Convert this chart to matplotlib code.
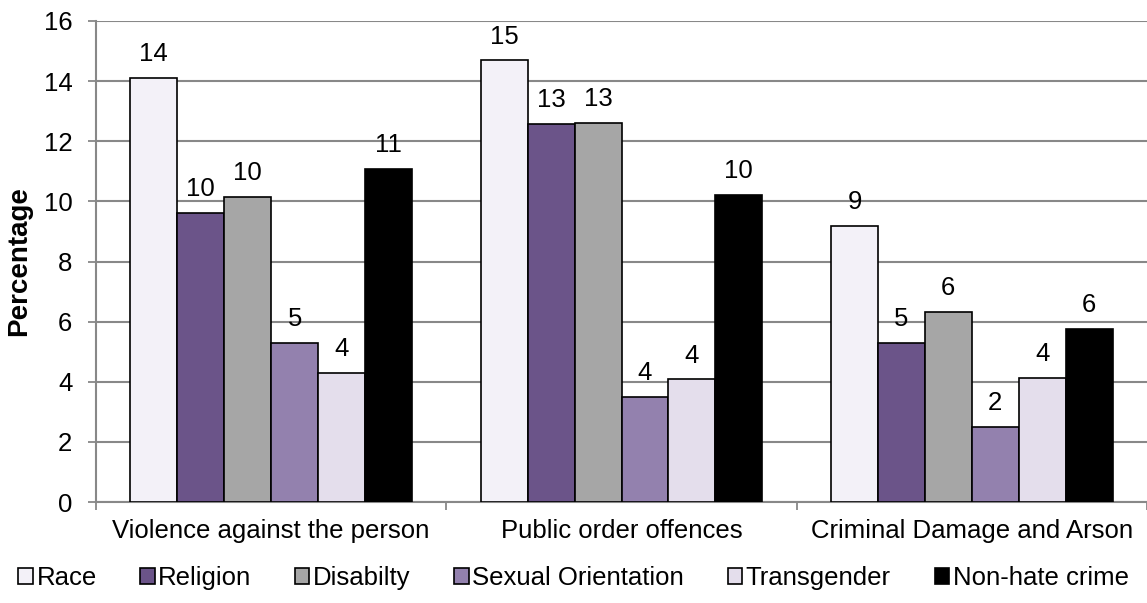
import numpy as np
import matplotlib
matplotlib.use('Agg')
import matplotlib.pyplot as plt

plt.rcParams['font.family'] = ['Liberation Sans', 'DejaVu Sans']

categories = ['Violence against the person', 'Public order offences', 'Criminal Damage and Arson']
series = ['Race', 'Religion', 'Disabilty', 'Sexual Orientation', 'Transgender', 'Non-hate crime']
race = [14.1, 14.69, 9.18]
religion = [9.61, 12.58, 5.29]
disability = [10.16, 12.62, 6.32]
sexual_orientation = [5.29, 3.50, 2.49]
transgender = [4.29, 4.08, 4.12]
non_hate = [11.08, 10.22, 5.75]
values = [race, religion, disability, sexual_orientation, transgender, non_hate]
colors = ['#F3F1F8', '#6B5489', '#A6A6A6', '#9381AE', '#E4DEEC', '#000000']
y_ticks = [0, 2, 4, 6, 8, 10, 12, 14, 16]

fs = 18.5
fig = plt.figure(figsize=(11.47, 6.03), dpi=100)
ax = fig.add_axes([96 / 1147, 1 - 502 / 603, 1 - 96 / 1147, (502 - 21) / 603])

x = np.arange(len(categories)) + 0.5
w = 0.134
for i, (name, vals, col) in enumerate(zip(series, values, colors)):
    pos = x + (i - 2.5) * w
    ax.bar(pos, vals, w, color=col, edgecolor='black', linewidth=1.2, label=name, zorder=3)
    for px, v in zip(pos, vals):
        ax.annotate(f'{v:.0f}', (px, v), xytext=(0, 12), textcoords='offset points',
                    ha='center', va='baseline', fontsize=fs)

ax.set_xlim(0, 3)
ax.set_ylim(0, 16)
ax.set_yticks(y_ticks)
ax.set_xticks([0, 1, 2, 3])
ax.set_xticklabels([])
ax.set_xticks(x, minor=True)
ax.set_xticklabels(categories, minor=True, fontsize=fs)
ax.tick_params(axis='x', which='minor', length=0, pad=12)
ax.tick_params(axis='x', which='major', length=6, color='#888888', width=1.3)
ax.tick_params(axis='y', length=6, color='#888888', width=1.3, labelsize=fs, pad=11)
ax.yaxis.grid(True, color='#888888', linewidth=1.5, zorder=0)
ax.set_axisbelow(True)
for s in ['top', 'right']:
    ax.spines[s].set_visible(False)
for s in ['left', 'bottom']:
    ax.spines[s].set_color('#888888')
    ax.spines[s].set_linewidth(1.5)
ax.set_ylabel('Percentage', fontsize=20, fontweight='bold')
ax.yaxis.set_label_coords(-0.061, 0.5)

fig.legend(loc='center', bbox_to_anchor=(0.5, 1 - 578 / 603), ncol=6, frameon=False,
           fontsize=fs, handlelength=0.55, handleheight=0.55, handletextpad=0.15,
           columnspacing=1.7)

fig.savefig('out.png', dpi=100)
